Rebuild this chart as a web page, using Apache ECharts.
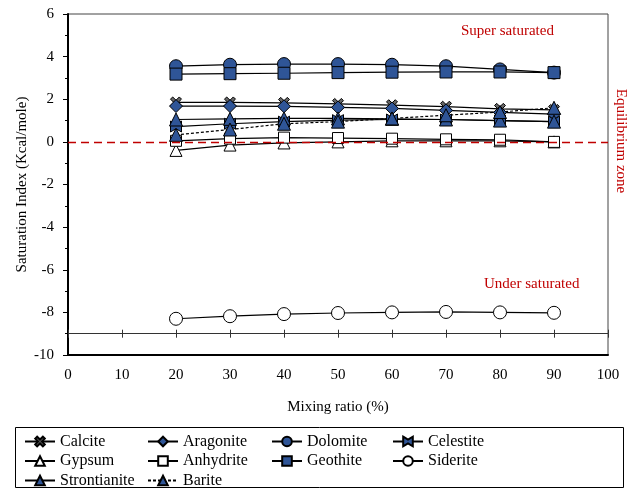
<!DOCTYPE html>
<html>
<head>
<meta charset="utf-8">
<script src="https://cdn.jsdelivr.net/npm/echarts@6/dist/echarts.min.js"></script>
<style>
  html, body { margin: 0; padding: 0; background: #fff; }
  #chart { width: 638px; height: 490px; }
</style>
</head>
<body>
<div id="chart"></div>
<script>
// mixing ratio (%) on x
const mixingRatio = [20, 30, 40, 50, 60, 70, 80, 90]

// saturation index per mineral
const calcite      = [1.85, 1.85, 1.83, 1.78, 1.72, 1.65, 1.55, 1.5]
const aragonite    = [1.68, 1.68, 1.67, 1.62, 1.57, 1.48, 1.38, 1.3]
const dolomite     = [3.55, 3.62, 3.65, 3.65, 3.62, 3.55, 3.4, 3.25]
const celestite    = [0.72, 0.85, 0.95, 1.02, 1.05, 1.05, 1.0, 0.95]
const gypsum       = [-0.4, -0.15, -0.05, 0.0, 0.05, 0.05, 0.05, 0.0]
const anhydrite    = [0.05, 0.15, 0.2, 0.18, 0.15, 0.12, 0.1, 0.0]
const geothite     = [3.18, 3.2, 3.22, 3.25, 3.27, 3.28, 3.28, 3.25]
const siderite     = [-8.3, -8.18, -8.08, -8.03, -8.0, -7.98, -8.0, -8.02]
const strontianite = [1.05, 1.08, 1.1, 1.1, 1.08, 1.05, 1.0, 0.95]
const barite       = [0.33, 0.58, 0.85, 0.95, 1.1, 1.25, 1.4, 1.6]

// axes
const xMin = 0, xMax = 100, xStep = 10
const yMin = -10, yMax = 6, yStep = 2
const lowerLine = -9

const blue = '#2f5597'
const font = 'Liberation Serif'
const starPath = 'path://M0,2 L2,0 L5,3 L8,0 L10,2 L7,5 L10,8 L8,10 L5,7 L2,10 L0,8 L3,5 Z'
const bowtiePath = 'path://M0,0 L5,3 L10,0 L10,10 L5,7 L0,10 Z'

const chart = echarts.init(document.getElementById('chart'))

function pairs(vals) {
  return mixingRatio.map((x, i) => [x, vals[i]])
}

function mk(name, vals, symbol, size, fill, dashed) {
  return {
    name: name,
    type: 'line',
    data: pairs(vals),
    symbol: symbol,
    symbolSize: size,
    showAllSymbol: true,
    lineStyle: { color: '#000', width: 1.2, type: dashed ? [3, 2] : 'solid' },
    itemStyle: { color: fill, borderColor: '#000', borderWidth: 1 },
    emphasis: { disabled: true },
    animation: false
  }
}

const series = [
  mk('Calcite', calcite, starPath, 11, '#666'),
  mk('Aragonite', aragonite, 'diamond', 13, blue),
  mk('Dolomite', dolomite, 'circle', 13, blue),
  mk('Celestite', celestite, bowtiePath, 11, blue),
  mk('Gypsum', gypsum, 'triangle', 12, '#fff'),
  mk('Anhydrite', anhydrite, 'rect', 11, '#fff'),
  mk('Geothite', geothite, 'rect', 12, blue),
  mk('Siderite', siderite, 'circle', 13, '#fff'),
  mk('Strontianite', strontianite, 'triangle', 13, blue),
  mk('Barite', barite, 'triangle', 13, blue, true)
]

// equilibrium line at zero
series[series.length - 1].markLine = {
  silent: true,
  symbol: 'none',
  label: { show: false },
  lineStyle: { color: '#c00000', type: [8, 5], width: 1.3 },
  data: [{ yAxis: 0 }],
  z: 10
}

const legendText = { fontFamily: font, fontSize: 16, color: '#000', lineHeight: 17 }
const columns = [
  ['Calcite', 'Gypsum', 'Strontianite'],
  ['Aragonite', 'Anhydrite', 'Barite'],
  ['Dolomite', 'Geothite'],
  ['Celestite', 'Siderite']
]
const colLeft = [24, 147, 271, 392]
const legends = columns.map((col, i) => ({
  data: col,
  orient: 'vertical',
  left: colLeft[i],
  top: 433,
  height: 70,
  itemWidth: 30,
  itemHeight: 12,
  itemGap: 2.5,
  padding: 0,
  textStyle: legendText,
  selectedMode: false
}))

const gridH = 490 - 14 - 135
const unitPx = gridH / (yMax - yMin)

const baseX = {
  type: 'value',
  min: xMin,
  max: xMax,
  interval: xStep,
  splitLine: { show: false }
}

const option = {
  backgroundColor: '#fff',
  animation: false,
  grid: {
    left: 68, right: 30, top: 14, bottom: 135,
    show: true, borderColor: '#444', borderWidth: 1
  },
  legend: legends,
  xAxis: [
    Object.assign({}, baseX, {
      name: 'Mixing ratio (%)',
      nameLocation: 'middle',
      nameGap: 45,
      nameTextStyle: { fontFamily: font, fontSize: 15, color: '#000' },
      axisLine: { show: true, onZero: false, lineStyle: { color: '#000', width: 2 } },
      axisTick: { show: false },
      axisLabel: { fontFamily: font, fontSize: 15, color: '#000', margin: 13 }
    }),
    Object.assign({}, baseX, {
      position: 'bottom',
      offset: -unitPx * (lowerLine - yMin),
      axisLine: { show: true, onZero: false, lineStyle: { color: '#333', width: 1 } },
      axisTick: { show: true, inside: true, length: 4, lineStyle: { color: '#333' } },
      axisLabel: { show: false }
    }),
    Object.assign({}, baseX, {
      position: 'bottom',
      offset: -unitPx * (lowerLine - yMin),
      axisLine: { show: false, onZero: false },
      axisTick: { show: true, inside: false, length: 4, lineStyle: { color: '#333' } },
      axisLabel: { show: false }
    })
  ],
  yAxis: {
    type: 'value',
    min: yMin,
    max: yMax,
    interval: yStep,
    name: 'Saturation Index (Kcal/mole)',
    nameLocation: 'middle',
    nameGap: 38,
    nameMoveOverlap: false,
    nameTextStyle: { fontFamily: font, fontSize: 15, color: '#000' },
    axisLine: { show: true, onZero: false, lineStyle: { color: '#000', width: 2 } },
    axisTick: { show: true, length: 5, lineStyle: { color: '#000' } },
    minorTick: { show: true, splitNumber: 2, length: 3, lineStyle: { color: '#000' } },
    axisLabel: { fontFamily: font, fontSize: 15, color: '#000', margin: 14 },
    splitLine: { show: false }
  },
  graphic: [
    {
      type: 'text', left: 461, top: 24,
      style: { text: 'Super saturated', fontFamily: font, fontSize: 15, fill: '#c00000' }
    },
    {
      type: 'text', left: 484, top: 277,
      style: { text: 'Under saturated', fontFamily: font, fontSize: 15, fill: '#c00000' }
    },
    {
      type: 'text', x: 621, y: 141, rotation: -Math.PI / 2,
      style: {
        text: 'Equilibrium zone', fontFamily: font, fontSize: 15, fill: '#c00000',
        align: 'center', verticalAlign: 'middle'
      }
    },
    {
      type: 'rect',
      shape: { x: 15.5, y: 427.5, width: 608, height: 60 },
      style: { fill: 'none', stroke: '#000', lineWidth: 1 }
    }
  ],
  series: series
}

chart.setOption(option)
</script>
</body>
</html>
